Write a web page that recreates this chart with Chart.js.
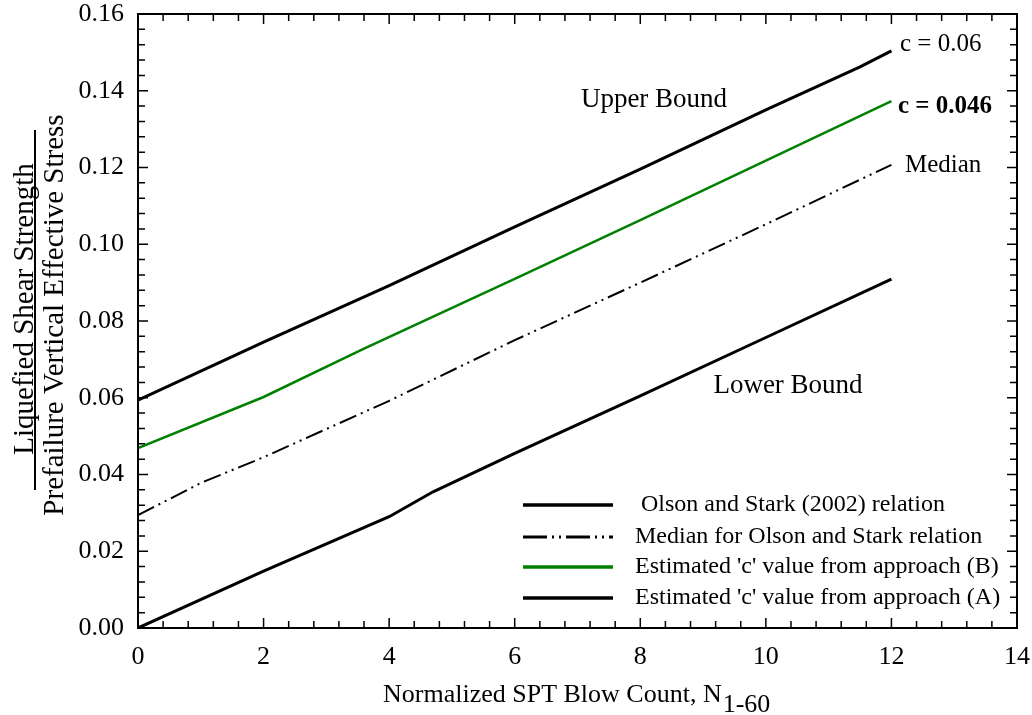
<!DOCTYPE html>
<html>
<head>
<meta charset="utf-8">
<script src="https://cdn.jsdelivr.net/npm/chart.js@4"></script>
<style>
  body { margin: 0; background: #fff; }
  #wrap { width: 1032px; height: 715px; }
</style>
</head>
<body>
<div id="wrap"><canvas id="chart" width="1032" height="715"></canvas></div>
<script>
const upperX = [0, 2, 4, 6, 8, 10, 11.5, 12];
const upperY = [0.0594, 0.0745, 0.0892, 0.1045, 0.1196, 0.1350, 0.1462, 0.1504];
const greenX = [0, 2, 3.6, 6, 8, 10, 12];
const greenY = [0.0469, 0.0602, 0.0728, 0.0910, 0.1063, 0.1218, 0.1373];
const medianX = [0, 1, 2, 4, 6, 8, 10, 12];
const medianY = [0.0294, 0.0378, 0.0445, 0.0592, 0.0750, 0.0900, 0.1052, 0.1207];
const lowerX = [0, 2, 4, 4.7, 6, 8, 10, 12];
const lowerY = [0.0, 0.0148, 0.0290, 0.0355, 0.0455, 0.0605, 0.0757, 0.0909];

const legendLabels = [
  " Olson and Stark (2002) relation",
  "Median for Olson and Stark relation",
  "Estimated 'c' value from approach (B)",
  "Estimated 'c' value from approach (A)"
];

const FONT = "'Liberation Serif', 'Times New Roman', serif";
const GREEN = "#008000";
const MEDIAN_DASH = [18, 5, 2, 5, 2, 5];

function pts(xs, ys) {
  return xs.map((x, i) => ({ x: x, y: ys[i] }));
}

const decor = {
  id: "decor",
  afterDraw(chart) {
    const ctx = chart.ctx;
    const a = chart.chartArea;
    const sx = chart.scales.x;
    const sy = chart.scales.y;
    ctx.save();

    // frame
    ctx.strokeStyle = "#000";
    ctx.lineWidth = 2;
    ctx.strokeRect(a.left, a.top, a.right - a.left, a.bottom - a.top);

    // inward ticks on all four sides
    ctx.lineWidth = 1.5;
    ctx.beginPath();
    for (let i = 0; i <= 35; i++) {
      const px = sx.getPixelForValue(i * 0.4);
      const len = i % 5 === 0 ? 10 : 7;
      ctx.moveTo(px, a.bottom); ctx.lineTo(px, a.bottom - len);
      ctx.moveTo(px, a.top); ctx.lineTo(px, a.top + len);
    }
    for (let i = 0; i <= 40; i++) {
      const py = sy.getPixelForValue(i * 0.004);
      const len = i % 5 === 0 ? 10 : 7;
      ctx.moveTo(a.left, py); ctx.lineTo(a.left + len, py);
      ctx.moveTo(a.right, py); ctx.lineTo(a.right - len, py);
    }
    ctx.stroke();

    // annotations
    ctx.fillStyle = "#000";
    ctx.textBaseline = "alphabetic";
    ctx.font = "27px " + FONT;
    ctx.textAlign = "center";
    ctx.fillText("Upper Bound", 654, 107);
    ctx.fillText("Lower Bound", 788, 393);
    ctx.textAlign = "left";
    ctx.font = "25px " + FONT;
    ctx.fillText("c = 0.06", 900, 51);
    ctx.fillText("Median", 905, 172);
    ctx.font = "bold 25px " + FONT;
    ctx.fillText("c = 0.046", 898, 113);

    // legend
    const styles = [
      { c: "#000", w: 3.5, d: [] },
      { c: "#000", w: 3, d: [24, 5, 2, 5, 2, 5] },
      { c: GREEN, w: 3.5, d: [] },
      { c: "#000", w: 3.5, d: [] }
    ];
    const rowY = [505, 537, 567, 598];
    ctx.font = "24px " + FONT;
    ctx.textBaseline = "middle";
    legendLabels.forEach((lab, i) => {
      const s = styles[i];
      ctx.strokeStyle = s.c;
      ctx.lineWidth = s.w;
      ctx.setLineDash(s.d);
      ctx.beginPath();
      ctx.moveTo(523, rowY[i]);
      ctx.lineTo(613, rowY[i]);
      ctx.stroke();
      ctx.setLineDash([]);
      ctx.fillStyle = "#000";
      ctx.fillText(lab, 635, rowY[i]);
    });

    // x title with subscript
    ctx.textBaseline = "alphabetic";
    ctx.font = "26px " + FONT;
    const main = "Normalized SPT Blow Count, N";
    const wMain = ctx.measureText(main).width;
    ctx.textAlign = "left";
    ctx.fillText(main, 383, 702);
    ctx.fillText("1-60", 383 + wMain + 1, 712);

    // y title as a fraction
    ctx.font = "29px " + FONT;
    ctx.textAlign = "center";
    ctx.save();
    ctx.translate(33, 309);
    ctx.rotate(-Math.PI / 2);
    ctx.fillText("Liquefied Shear Strength", 0, 0);
    ctx.restore();
    ctx.save();
    ctx.translate(63, 315);
    ctx.rotate(-Math.PI / 2);
    ctx.fillText("Prefailure Vertical Effective Stress", 0, 0);
    ctx.restore();
    ctx.strokeStyle = "#000";
    ctx.lineWidth = 2;
    ctx.beginPath();
    ctx.moveTo(35, 130);
    ctx.lineTo(35, 490);
    ctx.stroke();

    ctx.restore();
  }
};

new Chart(document.getElementById("chart"), {
  type: "scatter",
  data: {
    datasets: [
      { label: "Upper", data: pts(upperX, upperY), borderColor: "#000", borderWidth: 3 },
      { label: "Green", data: pts(greenX, greenY), borderColor: GREEN, borderWidth: 2.5 },
      { label: "Median", data: pts(medianX, medianY), borderColor: "#000", borderWidth: 2, borderDash: MEDIAN_DASH },
      { label: "Lower", data: pts(lowerX, lowerY), borderColor: "#000", borderWidth: 3 }
    ].map((d) => Object.assign(d, { showLine: true, pointRadius: 0, fill: false, tension: 0 }))
  },
  options: {
    responsive: false,
    animation: false,
    layout: { padding: { top: 14, right: 15, left: 0, bottom: 0 } },
    plugins: { legend: { display: false }, tooltip: { enabled: false } },
    scales: {
      x: {
        type: "linear",
        min: 0, max: 14,
        grid: { display: false, drawTicks: false, tickLength: 0 },
        border: { display: false },
        ticks: { stepSize: 2, color: "#000", font: { family: FONT, size: 26 }, padding: 14, maxRotation: 0 },
        afterFit: (s) => { s.height = 87; s.paddingLeft = 0; s.paddingRight = 0; }
      },
      y: {
        type: "linear",
        min: 0, max: 0.16,
        grid: { display: false, drawTicks: false, tickLength: 0 },
        border: { display: false },
        ticks: {
          stepSize: 0.02, color: "#000", font: { family: FONT, size: 26 }, padding: 14,
          callback: (v) => v.toFixed(2)
        },
        afterFit: (s) => { s.width = 138; s.paddingTop = 0; s.paddingBottom = 0; }
      }
    }
  },
  plugins: [decor]
});
</script>
</body>
</html>
